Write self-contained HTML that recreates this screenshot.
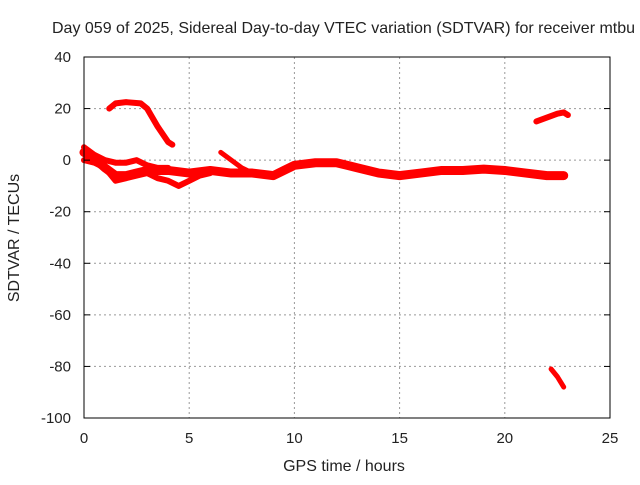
<!DOCTYPE html>
<html><head><meta charset="utf-8"><style>
body{margin:0;background:#fff;overflow:hidden}
svg text{font-family:"Liberation Sans",sans-serif;font-size:15px;fill:#222}
</style></head><body>
<svg id="chart" width="640" height="480" xmlns="http://www.w3.org/2000/svg">
<text x="52" y="33" style="font-size:16px">Day 059 of 2025, Sidereal Day-to-day VTEC variation (SDTVAR) for receiver mtbu</text>
<g id="grid"></g>
<g id="series"></g>
<rect x="84" y="57" width="526" height="361" fill="none" stroke="#000" stroke-width="1"/>
<g id="axes"></g>
<text x="344" y="471" text-anchor="middle" style="font-size:16px">GPS time / hours</text>
<text transform="translate(19,238) rotate(-90)" text-anchor="middle" style="font-size:16px">SDTVAR / TECUs</text>
</svg>
<script>
const xTicks=[0,5,10,15,20,25];
const yTicks=[40,20,0,-20,-40,-60,-80,-100];
const upperArcX=[1.2,1.5,2,2.7,3,3.5,4,4.2];
const upperArcY=[20,22,22.5,22,20,13,7,6];
const mainX=[0,0.3,1,1.5,2,2.5,3,4,5,6,7,8,9,9.5,10,11,12,12.5,13,14,15,16,17,18,19,20,21,22,22.8];
const mainY=[3,2,-3,-6,-6,-5,-4,-4,-5,-4,-5,-5,-6,-4,-2,-1,-1,-2,-3,-5,-6,-5,-4,-4,-3.5,-4,-5,-6,-6];
const lowX=[0,0.5,1,1.5,2,2.5,3,3.5,4,4.5,5,5.5,6];
const lowY=[0,-1,-3,-8,-7,-6,-5,-7,-8,-10,-8,-6,-5];
const branchX=[0,0.5,1,1.5,2,2.5,3,3.5,4];
const branchY=[5,2,0,-1,-1,0,-2,-3,-3];
const midX=[6.5,7,7.5,8];
const midY=[3,0,-3,-5];
const lateArcX=[21.5,22,22.5,22.8,23];
const lateArcY=[15,16.5,18,18.5,17.5];
const dropX=[22.2,22.5,22.8];
const dropY=[-81,-84,-88];
const NS="http://www.w3.org/2000/svg";
const X=v=>84+v*526/25, Y=v=>57+(40-v)*361/140;
const grid=document.getElementById('grid'),axes=document.getElementById('axes'),ser=document.getElementById('series');
function mk(t,a,p){const e=document.createElementNS(NS,t);for(const k in a)e.setAttribute(k,a[k]);p.appendChild(e);return e;}
xTicks.forEach(t=>{
 if(t>0&&t<25){const g=mk('line',{x1:X(t),x2:X(t),y1:57,y2:418,stroke:'#999','stroke-dasharray':'2,3'},grid);
 
 }
 const l=mk('text',{x:X(t),y:443,'text-anchor':'middle'},axes);l.textContent=t;
 
 
});
yTicks.forEach(t=>{
 if(t<40&&t>-100){const g=mk('line',{x1:84,x2:610,y1:Y(t),y2:Y(t),stroke:'#999','stroke-dasharray':'2,3'},grid);
 
 }
 mk('line',{x1:84,x2:90,y1:Y(t),y2:Y(t),stroke:'#000'},axes);
 mk('line',{x1:604,x2:610,y1:Y(t),y2:Y(t),stroke:'#000'},axes);
 const l=mk('text',{x:71,y:Y(t)+5,'text-anchor':'end'},axes);l.textContent=t;
 
 
});
function line(xs,ys,w,name){
 const p=mk('polyline',{points:xs.map((x,i)=>X(x)+','+Y(ys[i])).join(' '),fill:'none',stroke:'#f00','stroke-width':w,'stroke-linejoin':'round','stroke-linecap':'round'},ser);
 
 
}
line(upperArcX,upperArcY,6,'series-upper-arc');
line(mainX,mainY,9,'series-main-band');
line(lowX,lowY,6,'series-low-branch');
line(branchX,branchY,6,'series-upper-branch');
line(midX,midY,5,'series-mid-segment');
line(lateArcX,lateArcY,6,'series-late-arc');
line(dropX,dropY,5,'series-late-drop');
</script>
</body></html>
